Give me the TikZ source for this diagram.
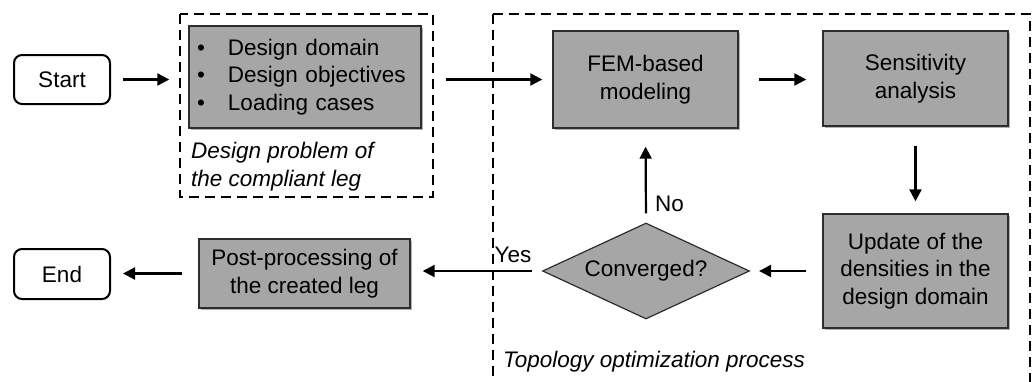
\documentclass[tikz,border=0pt]{standalone}
\usepackage{fontspec}
\setmainfont{Liberation Sans}
\usetikzlibrary{arrows.meta,shapes.geometric,shadows}
\definecolor{boxgray}{RGB}{166,166,166}
\definecolor{edgegray}{RGB}{45,45,45}
\begin{document}
\begin{tikzpicture}[x=1pt,y=-1pt,
  every node/.style={font=\fontsize{22.5}{27.5}\selectfont},
  graybox/.style={draw=edgegray, line width=1.4pt, fill=boxgray, inner sep=0pt, align=center,
    drop shadow={shadow xshift=1.5pt, shadow yshift=-2pt, opacity=0.3, fill=black}},
  termbox/.style={draw=black, line width=2pt, rounded corners=8pt, fill=white, inner sep=0pt},
  frame/.style={draw=black, line width=2.2pt, dash pattern=on 10pt off 6pt},
  arrow/.style={draw=black, line width=2.2pt, -{Triangle[length=12pt,width=12pt]}},
  plain/.style={inner sep=0pt, align=left}]
\useasboundingbox (0,0) rectangle (1032,381);
% dashed frames
\draw[frame] (180,14) rectangle (433,197);
\draw[frame] (493,14) -- (1030,14) -- (1030,390);
\draw[frame] (493,14) -- (493,390);
% nodes
\node[termbox, minimum width=96pt, minimum height=49pt] (start) at (62,79.5) {Start};
\node[termbox, minimum width=96pt, minimum height=50pt] (end) at (62,274) {End};
\node[graybox, minimum width=232pt, minimum height=102pt, text width=216pt, align=left, inner xsep=8pt] (prob) at (305,77)
  {\makebox[31pt][l]{\textbullet}Design domain\\\makebox[31pt][l]{\textbullet}Design objectives\\\makebox[31pt][l]{\textbullet}Loading cases};
\node[plain, anchor=west] (problabel) at (191,166.5) {\itshape Design problem of\\\itshape the compliant leg};
\node[graybox, minimum width=185pt, minimum height=97pt] (fem) at (645.5,79.5) {FEM-based\\modeling};
\node[graybox, minimum width=185pt, minimum height=95pt] (sens) at (915.5,78.5) {Sensitivity\\analysis};
\node[graybox, minimum width=185pt, minimum height=114pt] (update) at (915.5,271) {Update of the\\densities in the\\design domain};
\node[draw=edgegray, line width=1.2pt, fill=boxgray, shape=diamond, aspect=2.16, inner sep=0pt,
  minimum width=207pt, minimum height=96pt] (conv) at (646,271) {Converged?};
\node[graybox, minimum width=211pt, minimum height=69pt] (post) at (304.5,273.5) {Post-processing of\\the created leg};
\node[plain, anchor=west] (toplabel) at (503,362) {\itshape Topology optimization process};
% connectors
\draw[arrow, shorten <=12pt, shorten >=19pt] (start.east) -- (start.east -| prob.west);
\draw[arrow, shorten <=24pt, shorten >=10pt] (prob.east |- fem.west) -- (fem.west);
\draw[arrow, shorten <=20pt, shorten >=16pt] (fem.east) -- (fem.east -| sens.west);
\draw[arrow, shorten <=19pt, shorten >=12pt] (sens.south) -- (update.north);
\draw[arrow, shorten <=16pt, shorten >=9pt] (update.west) -- (conv.east);
\draw[arrow, shorten <=9pt, shorten >=18pt] (conv.north) -- node[pos=0.2, anchor=west, inner sep=0pt, xshift=8pt] (no) {No} (fem.south);
\draw[arrow, shorten <=10pt, shorten >=12pt] (conv.west) -- node[pos=0.22, anchor=south, inner sep=0pt, yshift=7pt] (yes) {Yes} (conv.west -| post.east);
\draw[arrow, shorten <=16pt, shorten >=12pt] (post.west) -- (post.west -| end.east);
\end{tikzpicture}
\end{document}
